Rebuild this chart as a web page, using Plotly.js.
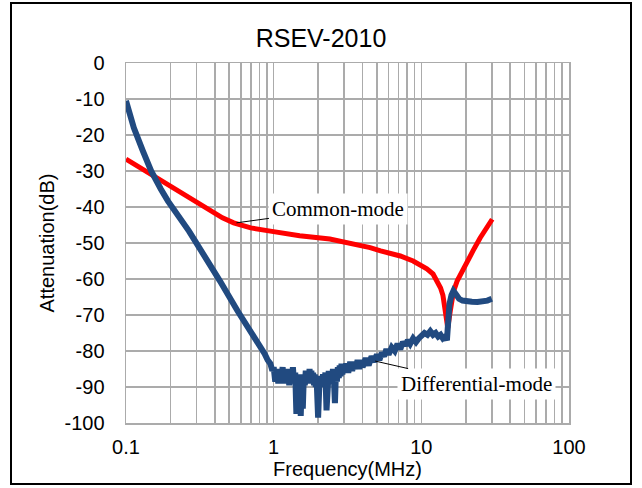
<!DOCTYPE html>
<html>
<head>
<meta charset="utf-8">
<script src="https://cdn.plot.ly/plotly-3.0.1.min.js"></script>
<style>
html,body{margin:0;padding:0;background:#fff;}
#chart{width:642px;height:488px;}
</style>
</head>
<body>
<div id="chart"></div>
<script>
// ---- data ----
var chartTitle = "RSEV-2010";
var xTitle = "Frequency(MHz)";
var yTitle = "Attenuation(dB)";

var cmName = "Common-mode";
var cmFreq = [0.1, 0.12, 0.148, 0.2, 0.246, 0.3, 0.375, 0.45, 0.536, 0.7, 0.95, 1.5, 2.4, 3.3, 4.5, 5.3, 7.2, 8.8, 10.9, 12.0, 12.8, 13.5, 14.0, 14.5, 14.9, 15.1, 15.7, 16.5, 17.5, 19, 20.5, 22.5, 25, 27.5, 30.2];
var cmVal  = [-26.7, -28.7, -30.8, -34.2, -36.4, -38.8, -41.1, -43, -44.4, -45.8, -46.7, -48, -48.9, -50, -51.3, -52.2, -53.6, -55, -57.2, -58.6, -60.5, -62.5, -64.5, -68, -72.5, -73.6, -68.9, -63.5, -60.5, -57.5, -55, -52, -48.6, -46, -43.4];

var dmName = "Differential-mode";
var dmFreq = [0.1, 0.113, 0.130, 0.148, 0.172, 0.192, 0.267, 0.342, 0.432, 0.57, 0.70, 0.87, 0.91, 0.95, 0.98, 1.0,
  1.025, 1.05, 1.075, 1.1, 1.125, 1.15, 1.175, 1.2, 1.225, 1.25, 1.275, 1.3, 1.325, 1.35, 1.375, 1.4, 1.425, 1.45, 1.475, 1.5,
  1.525, 1.55, 1.575, 1.6, 1.625, 1.65, 1.675, 1.7, 1.725, 1.75, 1.775, 1.8, 1.825, 1.85, 1.875, 1.9, 1.925, 1.95, 1.975, 2.0,
  2.04, 2.08, 2.12, 2.16, 2.2, 2.24, 2.28, 2.32, 2.36, 2.4, 2.44, 2.48, 2.52, 2.56, 2.6, 2.64, 2.68, 2.72, 2.76, 2.8, 2.84, 2.88, 2.92, 2.96, 3.0,
  3.1, 3.2, 3.3, 3.4, 3.5, 3.6, 3.7, 3.8, 3.9, 4.0, 4.2, 4.4, 4.6, 4.8, 5.0, 5.2, 5.4, 5.6, 5.8, 6.0, 6.3, 6.6, 6.9, 7.2, 7.5, 7.8, 8.1, 8.4, 8.8, 9.2, 9.6,
  10, 10.5, 11, 11.5, 12, 12.5, 13, 13.5, 14, 14.5, 14.9, 15.1,
  15.5, 16.0, 16.5, 17, 17.5, 18, 19, 20, 22, 24, 26, 28, 30];
var dmVal = [-10.5, -18, -24.4, -30, -35, -38.3, -46.7, -53.6, -60.5, -68.9, -74.4, -80.8, -82.5, -83.5, -85.5, -84.5,
  -88.5, -85, -89, -85.5, -88, -84.5, -89, -85.5, -88.5, -85, -89.5, -86, -88, -84.5, -89, -86, -97.5, -88, -90, -86.5,
  -98, -88.5, -96, -87, -89.5, -85.5, -88.5, -86, -89, -85, -88, -85.5, -89, -86, -89.5, -86.5, -90, -87, -90.5, -98.5,
  -89, -87, -90, -86.5, -89.5, -86, -96.5, -88, -85.5, -89, -86, -88.5, -85, -88, -94.5, -86, -88.5, -84.5, -87.5, -84, -87, -83.5, -86.5, -84, -86,
  -83.5, -86, -83, -85.5, -83, -85, -82.5, -85, -82.5, -84.5, -82, -84, -81.5, -83, -81, -82.5, -80.5, -81.5, -79.5, -81, -79, -80, -78, -79.5, -77.5, -78.5, -77, -78, -76.5, -77.5, -76.5,
  -75.5, -75, -75.5, -74.5, -75.5, -75, -76, -75.5, -76.5, -76, -77, -72,
  -67, -64.5, -63.3, -64, -65, -65.5, -66, -66.2, -66.3, -66.4, -66.3, -66, -65.5];

var xTickVals = [0.1,0.2,0.3,0.4,0.5,0.6,0.7,0.8,0.9,1,2,3,4,5,6,7,8,9,10,20,30,40,50,60,70,80,90,100];
var xTickText = ["0.1","","","","","","","","","1","","","","","","","","","10","","","","","","","","","100"];
var yTickVals = [0,-10,-20,-30,-40,-50,-60,-70,-80,-90,-100];
var yTickText = ["0","-10","-20","-30","-40","-50","-60","-70","-80","-90","-100"];

// annotation anchor points on the curves
var cmLabelAt = [0.56, -44.4];
var dmLabelAt = [4.87, -82.8];

var gridCol = "#ababab";
var sans = "Liberation Sans, Arial, sans-serif";
var serif = "Liberation Serif, Times New Roman, serif";

var traces = [
  {x: cmFreq, y: cmVal, name: cmName, mode: "lines", type: "scatter",
   line: {color: "#ff0000", width: 5}},
  {x: dmFreq, y: dmVal, name: dmName, mode: "lines", type: "scatter",
   line: {color: "#214a80", width: 6}}
];

var layout = {
  width: 642, height: 488,
  margin: {l: 126, r: 73, t: 63, b: 65, pad: 0},
  paper_bgcolor: "#ffffff", plot_bgcolor: "#ffffff",
  showlegend: false,
  title: {text: chartTitle, font: {family: sans, size: 25, color: "#000"}, x: 0.5, xanchor: "center", y: 0.922, yanchor: "middle"},
  xaxis: {
    type: "log", range: [-1, 2], autorange: false,
    tickvals: xTickVals, ticktext: xTickText, ticks: "",
    showgrid: true, gridcolor: gridCol, gridwidth: 1.5,
    showline: true, linecolor: gridCol, linewidth: 1.5, mirror: true,
    zeroline: false, ticklabelstandoff: 5,
    tickfont: {family: sans, size: 20, color: "#000"},
    title: {text: xTitle, font: {family: sans, size: 20, color: "#000"}, standoff: 0}
  },
  yaxis: {
    range: [-100, 0], autorange: false,
    tickvals: yTickVals, ticktext: yTickText, ticks: "",
    showgrid: true, gridcolor: gridCol, gridwidth: 1.5,
    showline: true, linecolor: gridCol, linewidth: 1.5, mirror: true,
    zeroline: false, ticklabelstandoff: 16,
    tickfont: {family: sans, size: 20, color: "#000"},
    title: {text: yTitle, font: {family: sans, size: 20, color: "#000"}, standoff: 4}
  },
  annotations: [
    {x: Math.log10(cmLabelAt[0]), y: cmLabelAt[1], xref: "x", yref: "y",
     text: cmName, showarrow: true, arrowhead: 0, arrowwidth: 1, arrowcolor: "#000",
     ax: 102, ay: -14, bgcolor: "#ffffff", borderpad: 3,
     font: {family: serif, size: 21, color: "#000"}},
    {x: Math.log10(dmLabelAt[0]), y: dmLabelAt[1], xref: "x", yref: "y",
     text: dmName, showarrow: true, arrowhead: 0, arrowwidth: 1, arrowcolor: "#000",
     ax: 101, ay: 23, bgcolor: "#ffffff", borderpad: 3,
     font: {family: serif, size: 21, color: "#000"}}
  ],
  shapes: [
    {type: "rect", xref: "paper", yref: "paper",
     x0: (11 - 126) / 443, x1: (631 - 126) / 443,
     y0: (423 - 484) / 360, y1: (423 - 3) / 360,
     line: {color: "#000", width: 2}, fillcolor: "rgba(0,0,0,0)", layer: "above"}
  ]
};

Plotly.newPlot("chart", traces, layout, {staticPlot: true, displayModeBar: false});
</script>
</body>
</html>
